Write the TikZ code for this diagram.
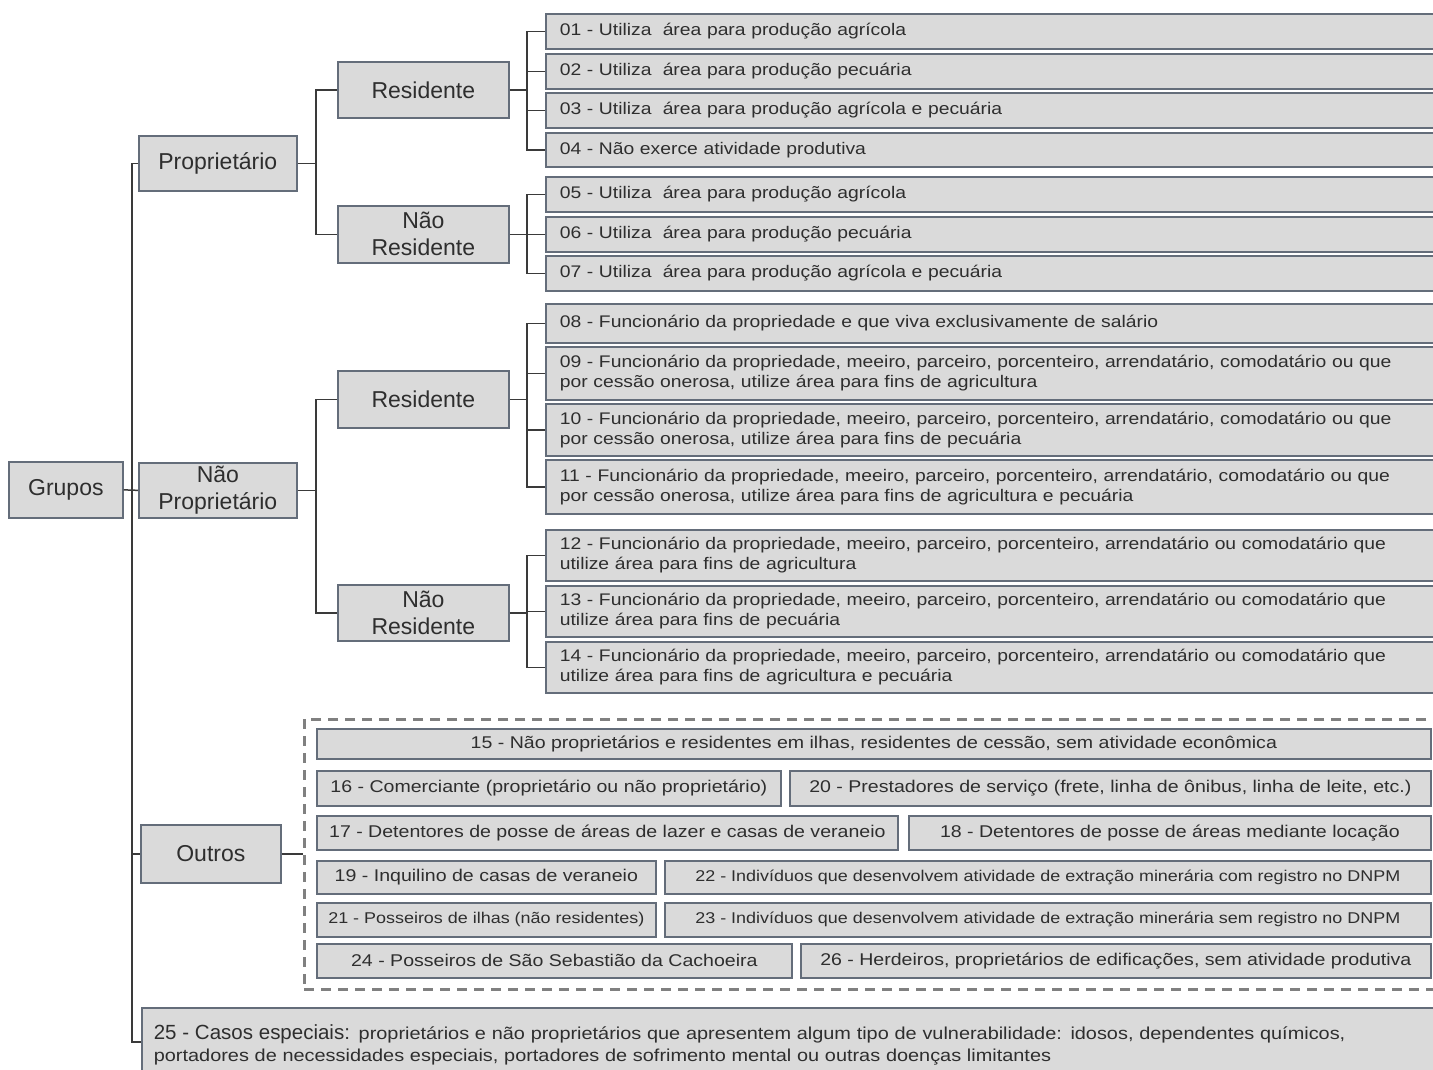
\documentclass[tikz,border=0pt]{standalone}
\usepackage{fontspec}
\setmainfont{Liberation Sans}
\newfontfamily\leaffont{Liberation Sans}[FakeStretch=1.15]
\definecolor{boxfill}{HTML}{DADADA}
\definecolor{boxline}{HTML}{646D7A}
\definecolor{txt}{HTML}{2E2E2E}
\definecolor{conncol}{HTML}{3A3A3A}
\definecolor{dashcol}{HTML}{808080}
\begin{document}
\begin{tikzpicture}[x=1pt,y=-1pt,
  box/.style={draw=boxline, fill=boxfill, line width=1.7pt, text=txt, inner sep=0pt, align=center, anchor=north west},
  bigbox/.style={box, font=\fontsize{23}{27}\selectfont},
  leaf/.style={box, font=\leaffont\fontsize{16.8}{20}\selectfont, align=left, anchor=north west, inner xsep=14pt, text width=863pt, minimum width=891pt},
  obox/.style={box, font=\leaffont\fontsize{17}{20}\selectfont},
  sbox/.style={box, font=\leaffont\fontsize{15.6}{18}\selectfont},
  conn/.style={draw=conncol, line width=1.5pt},
  grp/.style={draw=dashcol, line width=2.5pt, dash pattern=on 10pt off 7pt}]
\useasboundingbox (0,0) rectangle (1433,1070);
% level 0 and 1
\node[bigbox, minimum width=114pt, minimum height=56pt] (grupos) at (8,461) {Grupos};
\node[bigbox, minimum width=158pt, minimum height=55pt] (prop) at (138,135) {Proprietário};
\node[bigbox, minimum width=158pt, minimum height=55pt] (nprop) at (138,462) {Não\\Proprietário};
\node[bigbox, minimum width=140pt, minimum height=58pt] (outros) at (140,824) {Outros};
% level 2
\node[bigbox, minimum width=171pt, minimum height=56pt] (pres) at (337,61) {Residente};
\node[bigbox, minimum width=171pt, minimum height=57pt] (pnres) at (337,205) {Não\\Residente};
\node[bigbox, minimum width=171pt, minimum height=57pt] (nres) at (337,370) {Residente};
\node[bigbox, minimum width=171pt, minimum height=56pt] (nnres) at (337,584) {Não\\Residente};
% leaves
\node[leaf, minimum height=35pt] (l01) at (545,13) {01 - Utiliza\ \ área para produção agrícola};
\node[leaf, minimum height=35pt] (l02) at (545,53) {02 - Utiliza\ \ área para produção pecuária};
\node[leaf, minimum height=35pt] (l03) at (545,92) {03 - Utiliza\ \ área para produção agrícola e pecuária};
\node[leaf, minimum height=34pt] (l04) at (545,132) {04 - Não exerce atividade produtiva};
\node[leaf, minimum height=35pt] (l05) at (545,176) {05 - Utiliza\ \ área para produção agrícola};
\node[leaf, minimum height=35pt] (l06) at (545,216) {06 - Utiliza\ \ área para produção pecuária};
\node[leaf, minimum height=35pt] (l07) at (545,255) {07 - Utiliza\ \ área para produção agrícola e pecuária};
\node[leaf, minimum height=39pt] (l08) at (545,303) {08 - Funcionário da propriedade e que viva exclusivamente de salário};
\node[leaf, minimum height=53pt] (l09) at (545,346) {09 - Funcionário da propriedade, meeiro, parceiro, porcenteiro, arrendatário, comodatário ou que\\por cessão onerosa, utilize área para fins de agricultura};
\node[leaf, minimum height=52pt] (l10) at (545,403) {10 - Funcionário da propriedade, meeiro, parceiro, porcenteiro, arrendatário, comodatário ou que\\por cessão onerosa, utilize área para fins de pecuária};
\node[leaf, minimum height=54pt] (l11) at (545,459) {11 - Funcionário da propriedade, meeiro, parceiro, porcenteiro, arrendatário, comodatário ou que\\por cessão onerosa, utilize área para fins de agricultura e pecuária};
\node[leaf, minimum height=51pt] (l12) at (545,529) {12 - Funcionário da propriedade, meeiro, parceiro, porcenteiro, arrendatário ou comodatário que\\utilize área para fins de agricultura};
\node[leaf, minimum height=51pt] (l13) at (545,585) {13 - Funcionário da propriedade, meeiro, parceiro, porcenteiro, arrendatário ou comodatário que\\utilize área para fins de pecuária};
\node[leaf, minimum height=51pt] (l14) at (545,641) {14 - Funcionário da propriedade, meeiro, parceiro, porcenteiro, arrendatário ou comodatário que\\utilize área para fins de agricultura e pecuária};
% outros group
\node[grp, draw, minimum width=1140pt, minimum height=270pt, anchor=north west, inner sep=0pt] (grpbox) at (303,718) {};
\node[obox, minimum width=1114pt, minimum height=30pt] (o15) at (316,728) {15 - Não proprietários e residentes em ilhas, residentes de cessão, sem atividade econômica};
\node[obox, minimum width=464pt, minimum height=35pt] (o16) at (316,770) {16 - Comerciante (proprietário ou não proprietário)};
\node[obox, minimum width=641pt, minimum height=35pt] (o20) at (789,770) {20 - Prestadores de serviço (frete, linha de ônibus, linha de leite, etc.)};
\node[obox, minimum width=581pt, minimum height=34pt] (o17) at (316,815) {17 - Detentores de posse de áreas de lazer e casas de veraneio};
\node[obox, minimum width=522pt, minimum height=34pt] (o18) at (908,815) {18 - Detentores de posse de áreas mediante locação};
\node[obox, minimum width=339pt, minimum height=33pt] (o19) at (316,860) {19 - Inquilino de casas de veraneio};
\node[sbox, minimum width=766pt, minimum height=33pt] (o22) at (664,860) {22 - Indivíduos que desenvolvem atividade de extração minerária com registro no DNPM};
\node[sbox, minimum width=339pt, minimum height=34pt] (o21) at (316,902) {21 - Posseiros de ilhas (não residentes)};
\node[sbox, minimum width=766pt, minimum height=34pt] (o23) at (664,902) {23 - Indivíduos que desenvolvem atividade de extração minerária sem registro no DNPM};
\node[obox, minimum width=475pt, minimum height=34pt] (o24) at (316,943) {24 - Posseiros de São Sebastião da Cachoeira};
\node[obox, minimum width=630pt, minimum height=34pt] (o26) at (800,943) {26 - Herdeiros, proprietários de edificações, sem atividade produtiva};
% 25
\node[box, align=left, minimum width=1300pt, minimum height=75pt, inner xsep=12pt, text width=1276pt, font=\leaffont\fontsize{17.3}{22}\selectfont] (c25) at (141,1007) {{\rmfamily\fontsize{20.5}{22}\selectfont 25 - Casos especiais:} proprietários e não proprietários que apresentem algum tipo de vulnerabilidade: idosos, dependentes químicos,\\portadores de necessidades especiais, portadores de sofrimento mental ou outras doenças limitantes\\[2pt]};
% trunk
\coordinate (tk) at (132,0);
\coordinate (tkend) at (132,1042);
\draw[conn] (prop.west -| tk) -- (tkend) -- (tkend -| c25.west);
\draw[conn] (prop.west -| tk) -- (prop.west);
\draw[conn] (grupos.east) -- (nprop.west);
\draw[conn] (outros.west -| tk) -- (outros.west);
\draw[conn] (outros.east) -- (outros.east -| grpbox.west);
% level 1 -> 2
\coordinate (b1) at (316,0);
\draw[conn] (prop.east) -- (prop.east -| b1);
\draw[conn] (pres.west) -| (b1 |- pnres.west) -- (pnres.west);
\draw[conn] (nprop.east) -- (nprop.east -| b1);
\draw[conn] (nres.west) -| (b1 |- nnres.west) -- (nnres.west);
% level 2 -> leaves
\coordinate (b2) at (527,0);
\draw[conn] (pres.east) -- (pres.east -| b2);
\draw[conn] (l01.west) -| (b2 |- l04.west) -- (l04.west);
\draw[conn] (l02.west) -- (l02.west -| b2);
\draw[conn] (l03.west) -- (l03.west -| b2);
\draw[conn] (pnres.east) -- (pnres.east -| b2);
\draw[conn] (l05.west) -| (b2 |- l07.west) -- (l07.west);
\draw[conn] (l06.west) -- (l06.west -| b2);
\draw[conn] (nres.east) -- (nres.east -| b2);
\draw[conn] (l08.west) -| (b2 |- l11.west) -- (l11.west);
\draw[conn] (l09.west) -- (l09.west -| b2);
\draw[conn] (l10.west) -- (l10.west -| b2);
\draw[conn] (nnres.east) -- (nnres.east -| b2);
\draw[conn] (l12.west) -| (b2 |- l14.west) -- (l14.west);
\draw[conn] (l13.west) -- (l13.west -| b2);
\end{tikzpicture}
\end{document}
